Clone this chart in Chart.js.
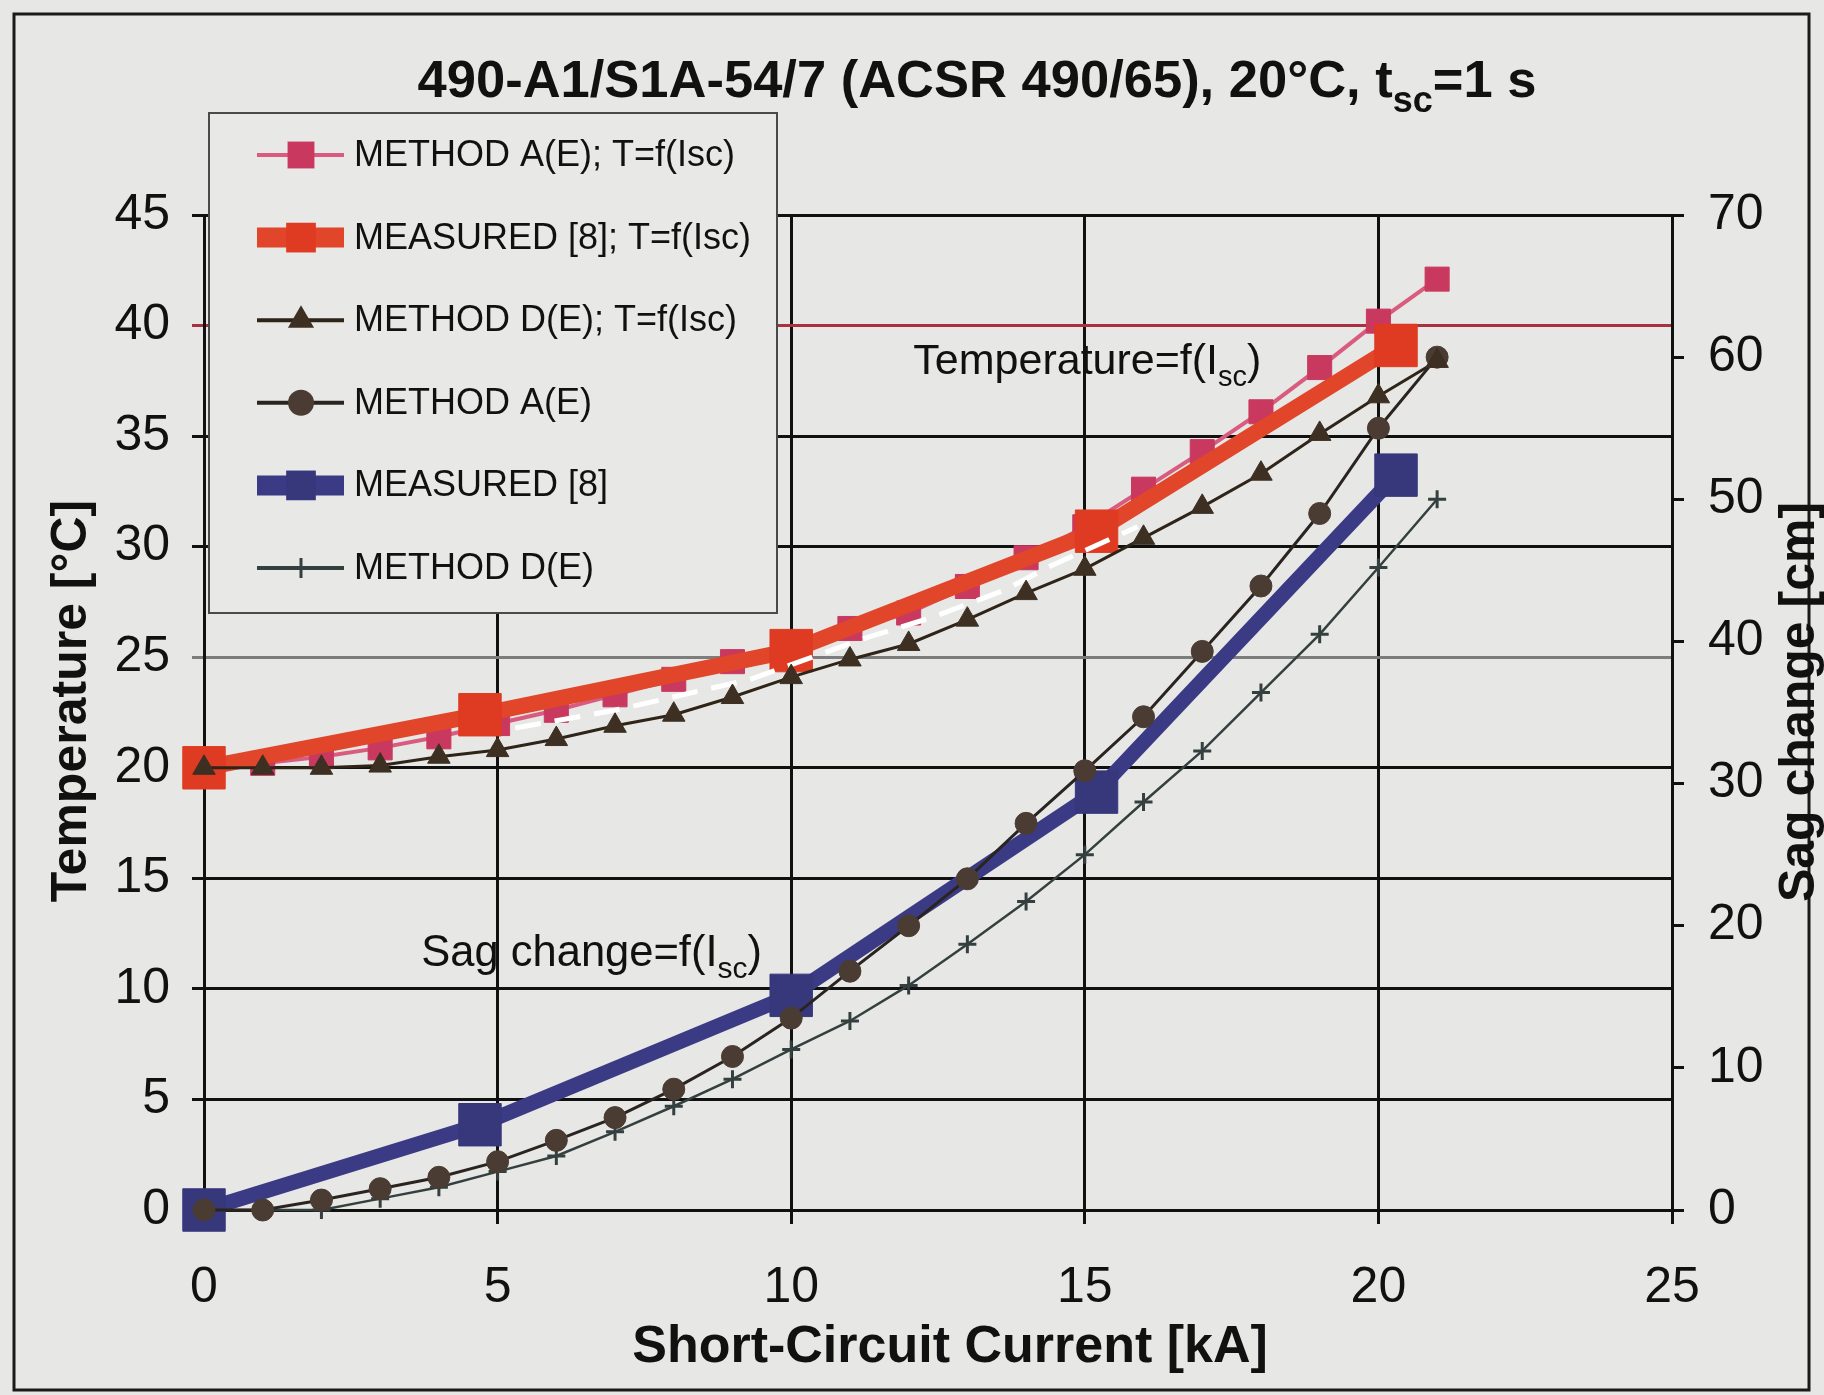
<!DOCTYPE html>
<html>
<head>
<meta charset="utf-8">
<script src="https://cdn.jsdelivr.net/npm/chart.js@4.4.1/dist/chart.umd.min.js"></script>
<style>
html, body { margin: 0; padding: 0; background: #e7e7e5; }
#wrap { position: relative; width: 1824px; height: 1395px; }
</style>
</head>
<body>
<div id="wrap"><canvas id="chart" width="1824" height="1395"></canvas></div>
<script>
const FAMILY = "'Liberation Sans', Arial, Helvetica, sans-serif";
const INK = '#111111';

// short-circuit current [kA] for the calculated curves
const currents = [0, 1, 2, 3, 4, 5, 6, 7, 8, 9, 10, 11, 12, 13, 14, 15, 16, 17, 18, 19, 20, 21];
// temperature [°C]
const tempMethodA = [20.0, 20.2, 20.5, 20.9, 21.4, 22.0, 22.6, 23.3, 24.0, 24.8, 25.6, 26.3, 27.0, 28.2, 29.5, 30.9, 32.6, 34.3, 36.1, 38.1, 40.2, 42.1];
const tempMethodD = [20.0, 20.0, 20.0, 20.1, 20.5, 20.8, 21.3, 21.9, 22.4, 23.2, 24.1, 24.9, 25.6, 26.7, 27.9, 29.0, 30.4, 31.8, 33.3, 35.1, 36.8, 38.4];
// sag change [cm]
const sagMethodA = [0, 0, 0.7, 1.5, 2.3, 3.4, 4.9, 6.5, 8.5, 10.8, 13.5, 16.8, 20.0, 23.3, 27.2, 30.9, 34.7, 39.3, 43.9, 49.0, 55.0, 60.0];
const sagMethodD = [0, 0, 0, 0.8, 1.6, 2.7, 3.8, 5.5, 7.3, 9.2, 11.3, 13.3, 15.8, 18.7, 21.7, 25.0, 28.7, 32.3, 36.4, 40.5, 45.2, 50.0];
// measured [8]
const measuredCurrents = [0, 4.7, 10.0, 15.2, 20.3];
const tempMeasured = [20.0, 22.4, 25.3, 30.7, 39.1];
const sagMeasured = [0, 6.0, 15.1, 29.4, 51.7];
// white dashed trace along the measured temperature curve
const traceCurrents = [5.3, 7.0, 9.3, 11.3, 12.4, 13.6, 14.4, 15.9];
const traceTemp = [21.8, 22.6, 24.0, 25.9, 26.8, 28.0, 29.1, 30.9];

const seriesNames = [
  'METHOD A(E); T=f(Isc)',
  'MEASURED [8]; T=f(Isc)',
  'METHOD D(E); T=f(Isc)',
  'METHOD A(E)',
  'MEASURED [8]',
  'METHOD D(E)'
];

const xTicks = [0, 5, 10, 15, 20, 25];

function pts(xs, ys) {
  return xs.map((x, i) => ({ x: x, y: ys[i] }));
}

function fontStr(size, bold) {
  return (bold ? 'bold ' : '') + size + 'px ' + FAMILY;
}

// text with subscripts: parts = [[text, isSub], ...]
function drawRich(ctx, parts, x, y, size, bold, align) {
  const subSize = Math.round(size * 0.68);
  let total = 0;
  parts.forEach(p => {
    ctx.font = fontStr(p[1] ? subSize : size, bold);
    total += ctx.measureText(p[0]).width;
  });
  let cx = align === 'center' ? x - total / 2 : x;
  ctx.textAlign = 'left';
  ctx.textBaseline = 'alphabetic';
  parts.forEach(p => {
    ctx.font = fontStr(p[1] ? subSize : size, bold);
    ctx.fillText(p[0], cx, p[1] ? y + size * 0.28 : y);
    cx += ctx.measureText(p[0]).width;
  });
}

function drawMarker(ctx, style, r, x, y, fill, stroke, bw) {
  ctx.save();
  ctx.fillStyle = fill;
  ctx.strokeStyle = stroke;
  ctx.lineWidth = bw;
  ctx.beginPath();
  if (style === 'rect') {
    const s = r * Math.SQRT1_2;
    ctx.rect(x - s, y - s, 2 * s, 2 * s);
    ctx.fill();
  } else if (style === 'circle') {
    ctx.arc(x, y, r, 0, Math.PI * 2);
    ctx.fill();
  } else if (style === 'triangle') {
    ctx.moveTo(x, y - r);
    ctx.lineTo(x + r * 0.87, y + r * 0.5);
    ctx.lineTo(x - r * 0.87, y + r * 0.5);
    ctx.closePath();
    ctx.fill();
  } else if (style === 'cross') {
    ctx.moveTo(x, y - r); ctx.lineTo(x, y + r);
    ctx.moveTo(x - r, y); ctx.lineTo(x + r, y);
    ctx.stroke();
  }
  ctx.restore();
}

const paper = {
  id: 'paper',
  beforeDraw(chart) {
    const ctx = chart.ctx;
    ctx.save();
    ctx.fillStyle = '#e7e7e5';
    ctx.fillRect(0, 0, chart.width, chart.height);
    ctx.strokeStyle = '#1a1a1a';
    ctx.lineWidth = 3;
    ctx.strokeRect(14, 14, 1795, 1376);
    ctx.restore();
  }
};

const texts = {
  id: 'texts',
  afterDraw(chart) {
    const ctx = chart.ctx;
    const x = chart.scales.x, y = chart.scales.y;
    ctx.save();
    ctx.fillStyle = INK;
    drawRich(ctx, [['490-A1/S1A-54/7 (ACSR 490/65), 20°C, t', false], ['sc', true], ['=1 s', false]], 977, 97, 52.5, true, 'center');
    drawRich(ctx, [['Temperature=f(I', false], ['sc', true], [')', false]], x.getPixelForValue(12.08), y.getPixelForValue(37.8), 43, false, 'left');
    drawRich(ctx, [['Sag change=f(I', false], ['sc', true], [')', false]], x.getPixelForValue(3.70), y.getPixelForValue(11.05), 43.5, false, 'left');

    ctx.font = fontStr(52, true);
    ctx.textAlign = 'center';
    ctx.textBaseline = 'alphabetic';
    ctx.fillText('Short-Circuit Current [kA]', 950, 1362);

    ctx.font = fontStr(50, true);
    ctx.textBaseline = 'middle';
    ctx.save();
    ctx.translate(72, 701);
    ctx.rotate(-Math.PI / 2);
    ctx.fillText('Temperature [°C]', 0, 0);
    ctx.restore();
    ctx.save();
    ctx.translate(1800, 702);
    ctx.rotate(-Math.PI / 2);
    ctx.fillText('Sag change [cm]', 0, 0);
    ctx.restore();
    ctx.restore();
  }
};

const boxLegend = {
  id: 'boxLegend',
  afterDraw(chart) {
    const ctx = chart.ctx;
    const L = 209, T = 113, R = 777, B = 613;
    ctx.save();
    ctx.fillStyle = '#e8e8e6';
    ctx.fillRect(L, T, R - L, B - T);
    ctx.strokeStyle = '#4a4a4a';
    ctx.lineWidth = 2;
    ctx.strokeRect(L, T, R - L, B - T);
    const items = chart.data.datasets.filter(d => seriesNames.includes(d.label));
    items.forEach((d, i) => {
      const yy = 155 + i * 82.6;
      ctx.strokeStyle = d.borderColor;
      ctx.lineWidth = d.legendLine;
      ctx.lineCap = 'butt';
      ctx.beginPath();
      ctx.moveTo(257, yy);
      ctx.lineTo(344, yy);
      ctx.stroke();
      drawMarker(ctx, d.pointStyle, d.legendRadius, 301, yy, d.pointBackgroundColor, d.pointBorderColor, d.pointBorderWidth);
      ctx.fillStyle = INK;
      ctx.font = fontStr(36, false);
      ctx.textAlign = 'left';
      ctx.textBaseline = 'middle';
      ctx.fillText(d.label, 354, yy + 1);
    });
    ctx.restore();
  }
};

const datasets = [
  {
    label: seriesNames[0], data: pts(currents, tempMethodA), yAxisID: 'y', order: 6,
    borderColor: '#d95b7d', borderWidth: 4, pointStyle: 'rect', pointRadius: 17,
    pointBackgroundColor: '#c9395f', pointBorderColor: '#c9395f', pointBorderWidth: 1,
    legendLine: 4, legendRadius: 19
  },
  {
    label: seriesNames[1], data: pts(measuredCurrents, tempMeasured), yAxisID: 'y', order: 5,
    borderColor: '#e1452a', borderWidth: 16, pointStyle: 'rect', pointRadius: 30,
    pointBackgroundColor: '#df3b22', pointBorderColor: '#df3b22', pointBorderWidth: 1,
    legendLine: 20, legendRadius: 21
  },
  {
    label: seriesNames[2], data: pts(currents, tempMethodD), yAxisID: 'y', order: 1,
    borderColor: '#2e2418', borderWidth: 3, pointStyle: 'triangle', pointRadius: 13,
    pointBackgroundColor: '#3d3022', pointBorderColor: '#3d3022', pointBorderWidth: 1,
    legendLine: 4, legendRadius: 15
  },
  {
    label: seriesNames[3], data: pts(currents, sagMethodA), yAxisID: 'y2', order: 1,
    borderColor: '#2a2420', borderWidth: 3, pointStyle: 'circle', pointRadius: 11,
    pointBackgroundColor: '#4a3c33', pointBorderColor: '#4a3c33', pointBorderWidth: 1,
    legendLine: 4, legendRadius: 13
  },
  {
    label: seriesNames[4], data: pts(measuredCurrents, sagMeasured), yAxisID: 'y2', order: 5,
    borderColor: '#3b3b85', borderWidth: 15, pointStyle: 'rect', pointRadius: 30,
    pointBackgroundColor: '#37377c', pointBorderColor: '#37377c', pointBorderWidth: 1,
    legendLine: 20, legendRadius: 21
  },
  {
    label: seriesNames[5], data: pts(currents, sagMethodD), yAxisID: 'y2', order: 1,
    borderColor: '#34403f', borderWidth: 2.5, pointStyle: 'cross', pointRadius: 9,
    pointBackgroundColor: '#34403f', pointBorderColor: '#34403f', pointBorderWidth: 3,
    legendLine: 4, legendRadius: 10
  },
  {
    label: 'trace', data: pts(traceCurrents, traceTemp), yAxisID: 'y', order: 3,
    borderColor: '#ffffff', borderWidth: 5, borderDash: [26, 14], pointRadius: 0
  }
];

const chart = new Chart(document.getElementById('chart').getContext('2d'), {
  type: 'line',
  data: { datasets: datasets },
  plugins: [paper, texts, boxLegend],
  options: {
    responsive: false,
    animation: false,
    devicePixelRatio: 1,
    clip: false,
    layout: { padding: { top: 215, left: 0, right: 0, bottom: 0 } },
    elements: { line: { tension: 0 } },
    plugins: {
      legend: { display: false },
      title: { display: false },
      tooltip: { enabled: false }
    },
    scales: {
      x: {
        type: 'linear', min: 0, max: 25,
        afterBuildTicks: s => { s.ticks = xTicks.map(v => ({ value: v })); },
        afterFit: s => { s.height = 185; },
        ticks: { color: INK, font: { family: FAMILY, size: 50 }, padding: 34, maxRotation: 0 },
        grid: { color: INK, lineWidth: 3, tickLength: 14 },
        border: { color: INK, width: 3 }
      },
      y: {
        position: 'left', min: 0, max: 45,
        afterFit: s => { s.width = 204; },
        ticks: { stepSize: 5, color: INK, font: { family: FAMILY, size: 50 }, padding: 22 },
        grid: {
          lineWidth: 3, tickLength: 12,
          color: c => c.tick && c.tick.value === 40 ? '#a8323f' : (c.tick && c.tick.value === 25 ? '#7d7d7d' : INK)
        },
        border: { color: INK, width: 3 }
      },
      y2: {
        position: 'right', min: 0, max: 70,
        afterFit: s => { s.width = 152; },
        ticks: { stepSize: 10, color: INK, font: { family: FAMILY, size: 50 }, padding: 24 },
        grid: { drawOnChartArea: false, color: INK, lineWidth: 3, tickLength: 12 },
        border: { color: INK, width: 3 }
      }
    }
  }
});
</script>
</body>
</html>
